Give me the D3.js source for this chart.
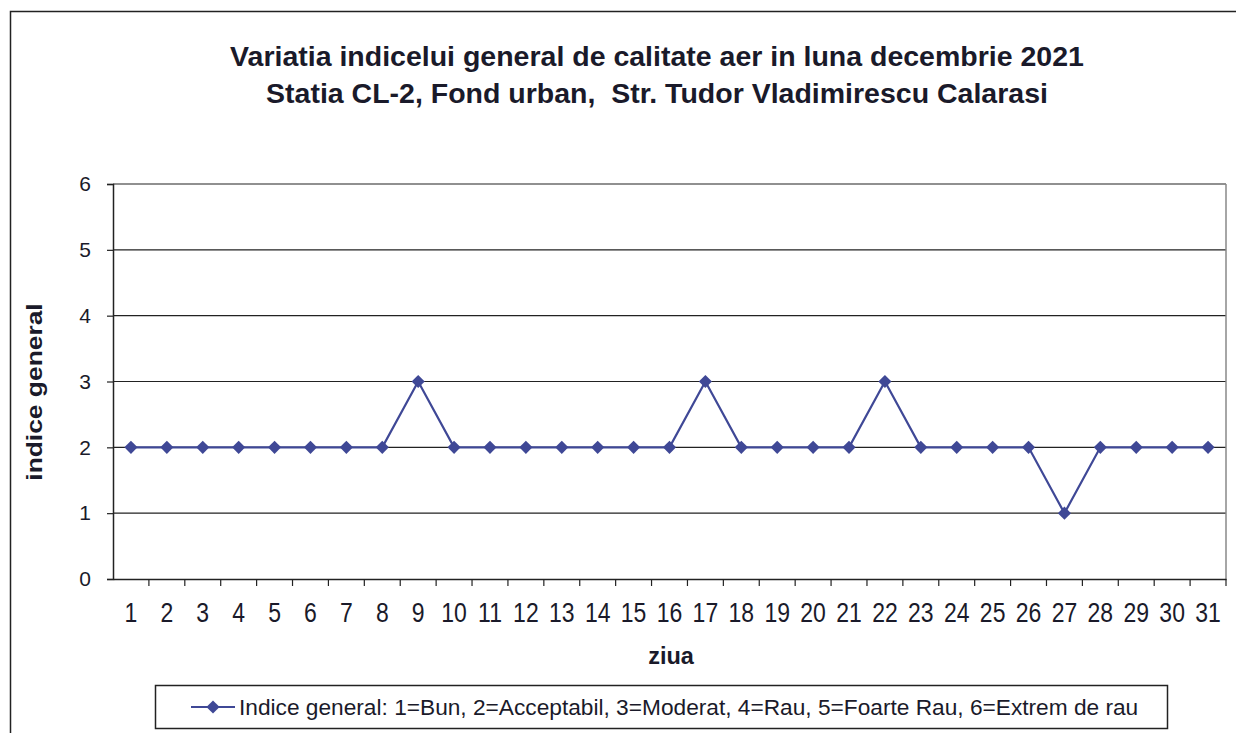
<!DOCTYPE html>
<html>
<head>
<meta charset="utf-8">
<script src="https://cdn.jsdelivr.net/npm/d3@7"></script>
<style>
  body { margin: 0; background: #fff; }
  text { font-family: "Liberation Sans", Arial, sans-serif; fill: #1a1a2a; white-space: pre; }
</style>
</head>
<body>
<div id="chart"></div>
<script>
// datele graficului
var zile = d3.range(1, 32).map(String);
var indice = [2,2,2,2,2,2,2,2,3,2,2,2,2,2,2,2,3,2,2,2,2,3,2,2,2,2,1,2,2,2,2];
var yTicks = [0,1,2,3,4,5,6];
var titlu = ["Variatia indicelui general de calitate aer in luna decembrie 2021",
             "Statia CL-2, Fond urban,  Str. Tudor Vladimirescu Calarasi"];
var legenda = "Indice general: 1=Bun, 2=Acceptabil, 3=Moderat, 4=Rau, 5=Foarte Rau, 6=Extrem de rau";

var W = 1236, H = 733;
var margin = {top: 184, right: 10, bottom: 154, left: 113},
    width = 1226 - margin.left,
    height = 579 - margin.top;

var svg = d3.select("#chart")
  .append("svg")
    .attr("width", W)
    .attr("height", H);

// chenarul exterior
svg.append("path")
  .attr("d", "M10.5," + H + "V11.5H" + W)
  .attr("fill", "none")
  .attr("stroke", "#222")
  .attr("stroke-width", 1.5);

// titlul
svg.append("g").selectAll("text")
  .data(titlu)
  .enter().append("text")
    .attr("x", 657)
    .attr("y", function(d, i) { return 66 + i * 37; })
    .attr("text-anchor", "middle")
    .style("font-size", "28.5px")
    .style("font-weight", "bold")
    .text(function(d) { return d; });

var g = svg.append("g")
  .attr("transform", "translate(" + margin.left + "," + margin.top + ")");

var x = d3.scaleBand()
  .domain(zile)
  .range([0, width]);

var y = d3.scaleLinear()
  .domain([0, 6])
  .range([height, 0]);

// liniile de grila
g.append("g").selectAll("line")
  .data(yTicks.filter(function(d) { return d > 0; }))
  .enter().append("line")
    .attr("x1", 0)
    .attr("x2", width)
    .attr("y1", function(d) { return y(d); })
    .attr("y2", function(d) { return y(d); })
    .attr("stroke", "#222")
    .attr("stroke-width", 1.2);

// marginea dreapta
g.append("line")
  .attr("x1", width).attr("x2", width)
  .attr("y1", 0).attr("y2", height)
  .attr("stroke", "#888")
  .attr("stroke-width", 1.5);

// axa Y
var yAxis = g.append("g")
  .call(d3.axisLeft(y).tickValues(yTicks).tickFormat(d3.format("d")).tickSize(6).tickPadding(16));
yAxis.select(".domain").attr("stroke", "#222").attr("stroke-width", 1.5);
yAxis.selectAll(".tick line").attr("stroke", "#222").attr("stroke-width", 1.2);
yAxis.selectAll("text").style("font-size", "21px").attr("fill", "#1a1a2a");

// axa X: ticks intre categorii (textul putin alungit pe verticala)
var xAxis = g.append("g")
  .attr("transform", "translate(0," + height + ")")
  .call(d3.axisBottom(x).tickSize(0).tickPadding(0));
xAxis.select(".domain").attr("stroke", "#222").attr("stroke-width", 1.5);
xAxis.selectAll("text")
  .style("font-size", "23px")
  .attr("fill", "#1a1a2a")
  .attr("y", 19.5)
  .attr("transform", "scale(1,1.2)");
xAxis.selectAll(".sep")
  .data(zile)
  .enter().append("line")
    .attr("x1", function(d) { return x(d) + x.bandwidth(); })
    .attr("x2", function(d) { return x(d) + x.bandwidth(); })
    .attr("y1", 0)
    .attr("y2", 7)
    .attr("stroke", "#222")
    .attr("stroke-width", 1.2);

// eticheta axelor
svg.append("text")
  .attr("x", 671)
  .attr("y", 664)
  .attr("text-anchor", "middle")
  .style("font-size", "23.5px")
  .style("font-weight", "bold")
  .text("ziua");

svg.append("text")
  .attr("transform", "translate(42,392) rotate(-90) scale(1.2,1)")
  .attr("text-anchor", "middle")
  .style("font-size", "22px")
  .style("font-weight", "bold")
  .text("indice general");

// seria
var cx = function(d, i) { return x(zile[i]) + x.bandwidth() / 2; };
var line = d3.line()
  .x(cx)
  .y(function(d) { return y(d); });

g.append("path")
  .datum(indice)
  .attr("fill", "none")
  .attr("stroke", "#3f4896")
  .attr("stroke-width", 2.2)
  .attr("d", line);

var diamond = d3.symbol().type(d3.symbolDiamond2).size(110);
g.append("g").selectAll("path")
  .data(indice)
  .enter().append("path")
    .attr("d", diamond)
    .attr("transform", function(d, i) { return "translate(" + cx(d, i) + "," + y(d) + ")"; })
    .attr("fill", "#3f4896");

// legenda
var leg = svg.append("g");
leg.append("rect")
  .attr("x", 155.5).attr("y", 685.5)
  .attr("width", 1012).attr("height", 43)
  .attr("fill", "#fff")
  .attr("stroke", "#222")
  .attr("stroke-width", 1.5);
leg.append("line")
  .attr("x1", 191).attr("x2", 235)
  .attr("y1", 707).attr("y2", 707)
  .attr("stroke", "#3f4896")
  .attr("stroke-width", 2.2);
leg.append("path")
  .attr("d", diamond)
  .attr("transform", "translate(213,707)")
  .attr("fill", "#3f4896");
leg.append("text")
  .attr("x", 239)
  .attr("y", 715)
  .style("font-size", "22.7px")
  .text(legenda);
</script>
</body>
</html>
